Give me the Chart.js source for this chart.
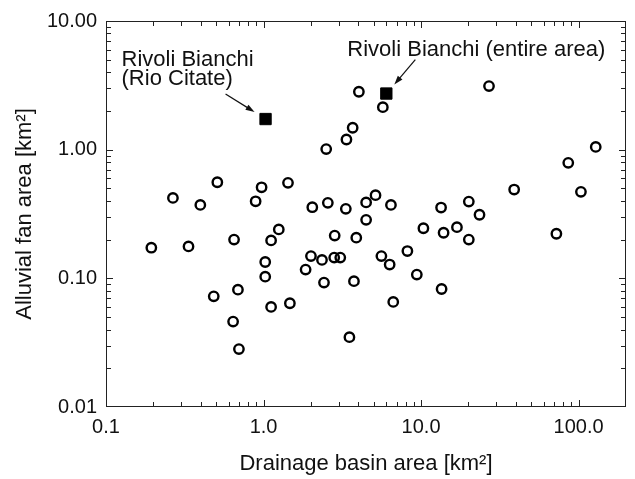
<!DOCTYPE html>
<html>
<head>
<meta charset="utf-8">
<script src="https://cdn.jsdelivr.net/npm/chart.js@4.4.1/dist/chart.umd.min.js"></script>
<style>
  html, body { margin: 0; padding: 0; background: #fff; }
</style>
</head>
<body>
<canvas id="fanChart" width="635" height="479"></canvas>
<script>
// Alluvial fan area vs drainage basin area (log-log)
const basinArea = [
  0.194, 0.266, 0.334, 0.397, 0.509, 0.483, 0.641, 0.65, 0.688, 0.698,
  0.891, 0.972, 1.025, 1.025, 1.117, 1.117, 1.25, 1.43, 1.47, 1.85,
  2.0, 2.04, 2.35, 2.42, 2.5, 2.56, 2.81, 2.83, 3.07, 3.33,
  3.36, 3.51, 3.68, 3.75, 3.88, 4.03, 4.48, 4.48, 5.14, 5.6,
  5.72, 6.32, 6.44, 6.66, 8.19, 9.4, 10.35, 13.4, 13.5, 13.9,
  16.9, 20.1, 20.1, 23.5, 27, 39, 72.3, 86, 103.5, 128.5,
];
const fanArea = [
  0.173, 0.422, 0.177, 0.372, 0.558, 0.0725, 0.0461, 0.2, 0.0817, 0.0282,
  0.397, 0.51, 0.134, 0.103, 0.197, 0.06, 0.24, 0.552, 0.064, 0.117,
  0.149, 0.357, 0.139, 0.0927, 1.01, 0.386, 0.145, 0.215, 0.145, 0.347,
  1.2, 0.0349, 1.48, 0.095, 0.207, 2.82, 0.389, 0.285, 0.443, 0.149,
  2.14, 0.128, 0.372, 0.0656, 0.163, 0.107, 0.245, 0.355, 0.0826, 0.226,
  0.25, 0.395, 0.2, 0.312, 3.12, 0.49, 0.222, 0.79, 0.47, 1.05,
];

// Rivoli Bianchi (highlighted squares)
const rivoliBasin = [1.03, 6.02];
const rivoliFan = [1.73, 2.73];
const rivoliLabels = [
  ["Rivoli Bianchi", "(Rio Citate)"],
  ["Rivoli Bianchi (entire area)"],
];

const xTickValues = [0.1, 1, 10, 100];
const yTickValues = [0.01, 0.1, 1, 10];

const FONT = "'Liberation Sans', Arial, sans-serif";
const INK = "#111";

// minor tick positions for each decade
function decadeTicks(min, max) {
  const out = [];
  for (let d = Math.floor(Math.log10(min)); d <= Math.ceil(Math.log10(max)); d++) {
    for (let m = 1; m <= 9; m++) {
      const v = m * Math.pow(10, d);
      if (v > min * 1.0001 && v < max * 0.9999) out.push({ v, major: m === 1 });
    }
  }
  return out;
}

// box frame with inward ticks on all four sides
const frameTicks = {
  id: "frameTicks",
  afterDraw(chart) {
    const { ctx, chartArea: a, scales } = chart;
    ctx.save();
    ctx.strokeStyle = "#222";
    ctx.lineWidth = 1;
    ctx.strokeRect(a.left + 0.5, a.top + 0.5, a.right - a.left - 1, a.bottom - a.top - 1);
    ctx.beginPath();
    decadeTicks(scales.x.min, scales.x.max).forEach((t) => {
      const px = Math.round(scales.x.getPixelForValue(t.v)) + 0.5;
      const len = t.major ? 7 : 5;
      ctx.moveTo(px, a.bottom);
      ctx.lineTo(px, a.bottom - len);
      ctx.moveTo(px, a.top);
      ctx.lineTo(px, a.top + len);
    });
    decadeTicks(scales.y.min, scales.y.max).forEach((t) => {
      const py = Math.round(scales.y.getPixelForValue(t.v)) + 0.5;
      const len = t.major ? 7 : 5;
      ctx.moveTo(a.left, py);
      ctx.lineTo(a.left + len, py);
      ctx.moveTo(a.right, py);
      ctx.lineTo(a.right - len, py);
    });
    ctx.stroke();
    ctx.restore();
  },
};

// labels and arrows pointing at the Rivoli Bianchi squares
const rivoliNotes = {
  id: "rivoliNotes",
  afterDatasetsDraw(chart) {
    const { ctx, scales } = chart;
    const notes = [
      { text: [-144, -53], line: 19, from: [-40, -25], to: [-11, -7] },
      { text: [-39, -38], line: 19, from: [29, -34], to: [8, -9] },
    ];
    ctx.save();
    ctx.font = `22px ${FONT}`;
    ctx.fillStyle = INK;
    ctx.strokeStyle = INK;
    ctx.textAlign = "left";
    ctx.textBaseline = "alphabetic";
    notes.forEach((n, i) => {
      const px = scales.x.getPixelForValue(rivoliBasin[i]);
      const py = scales.y.getPixelForValue(rivoliFan[i]);
      rivoliLabels[i].forEach((s, k) => {
        ctx.fillText(s, px + n.text[0], py + n.text[1] + k * n.line);
      });
      const x0 = px + n.from[0], y0 = py + n.from[1];
      const x1 = px + n.to[0], y1 = py + n.to[1];
      const ang = Math.atan2(y1 - y0, x1 - x0);
      ctx.lineWidth = 1.2;
      ctx.beginPath();
      ctx.moveTo(x0, y0);
      ctx.lineTo(x1 - 6 * Math.cos(ang), y1 - 6 * Math.sin(ang));
      ctx.stroke();
      ctx.beginPath();
      ctx.moveTo(x1, y1);
      ctx.lineTo(x1 - 9 * Math.cos(ang) + 3 * Math.sin(ang), y1 - 9 * Math.sin(ang) - 3 * Math.cos(ang));
      ctx.lineTo(x1 - 9 * Math.cos(ang) - 3 * Math.sin(ang), y1 - 9 * Math.sin(ang) + 3 * Math.cos(ang));
      ctx.closePath();
      ctx.fill();
    });
    ctx.restore();
  },
};

new Chart(document.getElementById("fanChart"), {
  type: "scatter",
  data: {
    datasets: [
      {
        label: "Fans",
        data: basinArea.map((x, i) => ({ x, y: fanArea[i] })),
        pointStyle: "circle",
        pointRadius: 4.7,
        pointBorderWidth: 2.4,
        pointBorderColor: "#000",
        pointBackgroundColor: "rgba(0,0,0,0)",
      },
      {
        label: "Rivoli Bianchi",
        data: rivoliBasin.map((x, i) => ({ x, y: rivoliFan[i] })),
        pointStyle: "rect",
        pointRadius: 8,
        pointBorderWidth: 1,
        pointBorderColor: "#000",
        pointBackgroundColor: "#000",
      },
    ],
  },
  options: {
    responsive: false,
    animation: false,
    devicePixelRatio: 1,
    layout: { padding: { left: 0, right: 1, top: 20, bottom: 0 } },
    plugins: {
      legend: { display: false },
      tooltip: { enabled: false },
    },
    scales: {
      x: {
        type: "logarithmic",
        position: "bottom",
        min: 0.1,
        max: 200,
        grid: { display: false, drawTicks: false },
        border: { display: false },
        afterBuildTicks: (scale) => {
          scale.ticks = xTickValues.map((v) => ({ value: v }));
        },
        afterFit: (scale) => {
          scale.height = 72;
        },
        ticks: {
          autoSkip: false,
          maxRotation: 0,
          padding: 8,
          color: INK,
          font: { family: FONT, size: 20 },
          callback: (v) => Number(v).toFixed(1),
        },
        title: {
          display: true,
          text: "Drainage basin area [km²]",
          color: INK,
          font: { family: FONT, size: 22 },
          padding: { top: 0, bottom: 2 },
        },
      },
      y: {
        type: "logarithmic",
        position: "left",
        min: 0.01,
        max: 10,
        grid: { display: false, drawTicks: false },
        border: { display: false },
        afterBuildTicks: (scale) => {
          scale.ticks = yTickValues.map((v) => ({ value: v }));
        },
        afterFit: (scale) => {
          scale.width = 106;
        },
        ticks: {
          autoSkip: false,
          padding: 9,
          color: INK,
          font: { family: FONT, size: 20 },
          callback: (v) => Number(v).toFixed(2),
        },
        title: {
          display: true,
          text: "Alluvial fan area [km²]",
          color: INK,
          font: { family: FONT, size: 22 },
          padding: { top: 12, bottom: 0 },
        },
      },
    },
  },
  plugins: [frameTicks, rivoliNotes],
});
</script>
</body>
</html>
